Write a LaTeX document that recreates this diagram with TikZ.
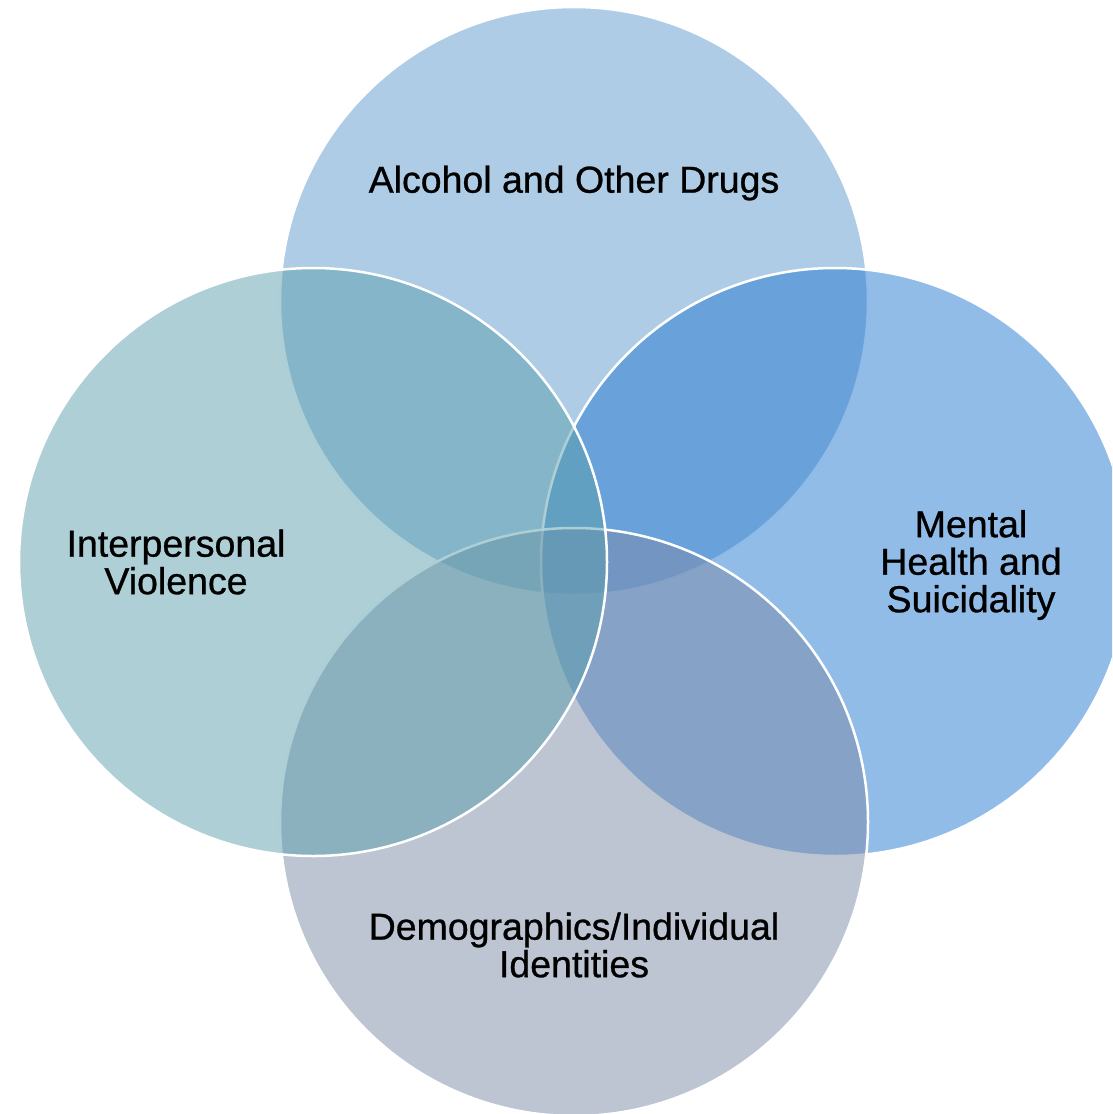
\documentclass[tikz,border=0pt]{standalone}
\usepackage{fontspec}
\setmainfont{Liberation Sans}
\newfontfamily\lblfont{Liberation Sans}[UprightFeatures={FakeBold=0.8}]
\definecolor{ctop}{RGB}{95,153,205}
\definecolor{cright}{RGB}{37,121,209}
\definecolor{cleft}{RGB}{91,159,171}
\definecolor{cbottom}{RGB}{123,139,167}
\tikzset{
  venn/.style={fill=#1, fill opacity=0.5, draw=white, draw opacity=1, line width=2.5pt},
  lbl/.style={align=center, text=black, font=\lblfont\fontsize{37.5}{37.5}\selectfont, inner sep=0pt}
}
\begin{document}
\begin{tikzpicture}[x=1pt,y=-1pt]
\useasboundingbox (0,0) rectangle (1112,1114);
\clip (0,0) rectangle (1112,1114);
\coordinate (ct) at (574,301);
\coordinate (cr) at (835,562);
\coordinate (cb) at (574,822);
\coordinate (cl) at (313,562);
\path[venn=ctop] (ct) circle[radius=294pt];
\path[venn=cright] (cr) circle[radius=294pt];
\path[venn=cbottom] (cb) circle[radius=294pt];
\path[venn=cleft] (cl) circle[radius=294pt];
\node[lbl] (t) at (574,183) {Alcohol and Other Drugs};
\node[lbl] (l) at (176,562) {Interpersonal\\Violence};
\node[lbl] (r) at (971,565) {Mental\\Health and\\Suicidality};
\node[lbl] (b) at (574,945) {Demographics/Individual\\Identities};
\end{tikzpicture}
\end{document}
